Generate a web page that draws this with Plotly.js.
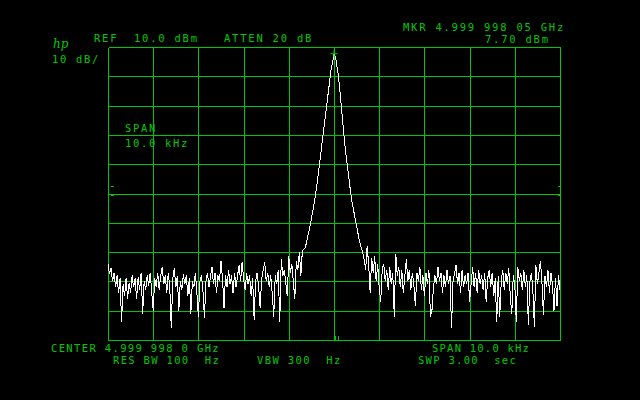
<!DOCTYPE html>
<html>
<head>
<meta charset="utf-8">
<script src="https://cdn.plot.ly/plotly-3.0.1.min.js"></script>
<style>
html,body{margin:0;padding:0;background:#000;}
#chart{width:640px;height:400px;}
#chart .scatterlayer path.js-line{shape-rendering:crispEdges;}
#chart .shapelayer path{shape-rendering:crispEdges;}
</style>
</head>
<body>
<div id="chart"></div>
<script>
// Sweep settings (Hz offset from center 4.999 998 0 GHz)
var spanStartHz = -5000;
var spanStopHz = 5000;
var sweepPoints = 301;

// Trace amplitude in dBm, one value per sweep point
var noiseLeft = [
  -64,-67.5,-65.5,-70,-67,-72,-68,-74,-69,-84,
  -71,-75,-69,-76,-70.5,-74,-68,-72,-69,-76,
  -68.5,-73,-67,-81,-70,-73,-68,-71.5,-67,-74,
  -80,-69,-72,-67,-73,-68,-65,-71,-68,-74,
  -67,-72,-86,-69,-65.5,-72,-68,-80,-70,-73,
  -67.5,-71,-68,-75,-69,-81,-70,-72,-67,-74,
  -82,-70,-68,-73,-82.5,-70,-67,-72,-68,-65,
  -71,-67,-74,-68,-70,-63,-69,-79,-68,-72,
  -66,-71,-68,-74,-67,-72,-68,-64.5,-70,-63.5,
  -69,-73,-67,-71,-68,-75,-69,-83,-70,-67,
  -72,-79,-69,-66,-63.5,-70,-67,-72,-68,-74,
  -82,-68,-71,-66,-84,-62.5,-68,-66,-71,-75,
  -61.5,-67,-64,-69,-76,-63,-66,-60,-68,-59.5
];
var skirtLeft = [
  -59,-58.5,-56,-54,-51.5,-48.5,-46,-43,-39.5,-36,
  -32,-27.5,-23,-18.5,-14,-9.7,-5,-0.5,2,4.5
];
var peakValue = [7.7];
var skirtRight = [
  6.5,3.5,0,-5.5,-12,-17.5,-22.5,-27,-32,-36,
  -39.5,-43,-46,-48.5,-51,-54,-56.5,-58.5
];
var noiseRight = [
  -60,-62.5,-66,-58,-64,-74,-62,-67,-61.5,-70,
  -64,-72,-77,-66,-64,-70,-66,-73,-65,-71,
  -67,-82,-60.5,-68,-65,-72,-66,-74,-67,-62.5,
  -70,-66,-73,-67,-71,-78.5,-67,-70,-65,-73,
  -68,-75,-67,-71,-66,-82,-80,-72,-68,-71,
  -65,-70,-67,-74,-68,-72,-66,-71,-68,-86,
  -70,-67,-64.5,-71,-67,-74,-66,-72,-68,-71,
  -67,-77,-69,-65,-72,-67,-74,-66,-71,-68,
  -73,-67,-77,-69,-66,-72,-67,-75,-69,-84,
  -68,-82,-70,-66,-73,-67,-71,-65.5,-75,-81,
  -68,-71,-84,-65,-70,-67,-73,-66,-72,-68,
  -85,-70,-67,-73,-85.5,-64.5,-71,-67,-63,-70,
  -81.5,-68,-72,-66,-74,-67,-71,-80,-69,-78.5,
  -68,-73
];
var traceDbm = noiseLeft.concat(skirtLeft, peakValue, skirtRight, noiseRight);

var freqHz = [];
for (var i = 0; i < sweepPoints; i++) {
  freqHz.push(spanStartHz + i * (spanStopHz - spanStartHz) / (sweepPoints - 1));
}

// Marker at the maximum
var mkrIdx = 0;
for (var k = 1; k < traceDbm.length; k++) { if (traceDbm[k] > traceDbm[mkrIdx]) mkrIdx = k; }

var refLevel = 10, dbPerDiv = 10, nDiv = 10;

// text labels
var labelHp = 'hp';
var labelScale = '10 dB/';
var labelRef = 'REF';
var labelRefVal = '10.0 dBm';
var labelAtten = 'ATTEN 20 dB';
var labelMkr = 'MKR 4.999 998 05 GHz';
var labelMkrVal = '7.70 dBm';
var labelSpanBox1 = 'SPAN';
var labelSpanBox2 = '10.0 kHz';
var labelCenter = 'CENTER 4.999 998 0 GHz';
var labelSpan = 'SPAN 10.0 kHz';
var labelRbw = 'RES BW 100  Hz';
var labelVbw = 'VBW 300  Hz';
var labelSwp = 'SWP 3.00  sec';

var GREEN = '#00c800';
var L = 108, R = 560, T = 47, B = 340;
function px(x){ return (x - L) / (R - L); }
function py(y){ return (B - y) / (B - T); }

function ann(text, x, y, size, pitch) {
  var ls = (pitch - 0.602 * size).toFixed(2);
  var t = '<span style="letter-spacing:' + ls + 'px">' + text.replace(/ /g, '&nbsp;') + '</span>';
  return {
    text: t, xref: 'paper', yref: 'paper', x: px(x), y: py(y),
    xanchor: 'left', yanchor: 'middle', showarrow: false,
    font: {family: 'DejaVu Sans Mono', size: size, color: GREEN}
  };
}

var annotations = [
  {text: '<i>' + labelHp + '</i>', xref: 'paper', yref: 'paper', x: px(51), y: py(44.5),
   xanchor: 'left', yanchor: 'middle', showarrow: false,
   font: {family: 'DejaVu Serif', size: 12, color: GREEN}},
  ann(labelScale, 50, 59.5, 10.5, 8.0),
  ann(labelRef, 91.5, 38.3, 10.5, 8.1),
  ann(labelRefVal, 131.5, 38.3, 10.5, 8.1),
  ann(labelAtten, 221.5, 38.3, 10.5, 8.1),
  ann(labelMkr, 401, 27.2, 10.5, 8.1),
  ann(labelMkrVal, 483, 39.3, 10.5, 8.1),
  ann(labelSpanBox1, 122.5, 127.7, 10.5, 8.0),
  ann(labelSpanBox2, 122.5, 143.3, 10.5, 8.0),
  ann(labelCenter, 49.3, 347.6, 10.5, 7.68),
  ann(labelSpan, 430, 347.6, 10.5, 7.55),
  ann(labelRbw, 110.5, 360, 10.5, 7.65),
  ann(labelVbw, 255, 360, 10.5, 7.7),
  ann(labelSwp, 416, 360, 10.5, 7.62)
];

function seg(x0, y0, x1, y1) {
  return {type: 'line', xref: 'paper', yref: 'paper', x0: px(x0), y0: py(y0), x1: px(x1), y1: py(y1),
          line: {color: GREEN, width: 1}, layer: 'below'};
}
var shapes = [];
// graticule: 10 x 10 divisions, aligned on whole pixels
for (var g = 0; g <= nDiv; g++) {
  var gx = Math.round(L + g * (R - L) / nDiv) + 0.5;
  var gy = Math.round(T + g * (B - T) / nDiv) + 0.5;
  shapes.push(seg(gx, T + 0.5, gx, B + 0.5));
  shapes.push(seg(L + 0.5, gy, R + 0.5, gy));
}
shapes.push(seg(111, 186.5, 114, 186.5), seg(111, 195.5, 114, 195.5),
            seg(558, 186.5, 561, 186.5), seg(558, 195.5, 561, 195.5),
            seg(335.5, 336, 335.5, 340), seg(338.5, 336, 338.5, 340));

var data = [
  {x: freqHz, y: traceDbm, type: 'scatter', mode: 'lines',
   line: {color: '#ffffff', width: 1}, hoverinfo: 'skip', cliponaxis: false},
  {x: [freqHz[mkrIdx]], y: [traceDbm[mkrIdx]], type: 'scatter', mode: 'markers',
   marker: {symbol: 'cross-thin-open', size: 5, color: GREEN, line: {color: GREEN, width: 1}}, hoverinfo: 'skip'}
];

var layout = {
  width: 640, height: 400,
  paper_bgcolor: '#000', plot_bgcolor: '#000',
  margin: {l: L, r: 640 - R, t: T, b: 400 - B, pad: 0},
  showlegend: false,
  xaxis: {range: [spanStartHz, spanStopHz], showgrid: false, zeroline: false, showline: false,
          showticklabels: false, ticks: '', fixedrange: true},
  yaxis: {range: [refLevel - dbPerDiv * nDiv, refLevel], showgrid: false, zeroline: false, showline: false,
          showticklabels: false, ticks: '', fixedrange: true},
  annotations: annotations,
  shapes: shapes
};

Plotly.newPlot('chart', data, layout, {staticPlot: true, displayModeBar: false});
</script>
</body>
</html>
